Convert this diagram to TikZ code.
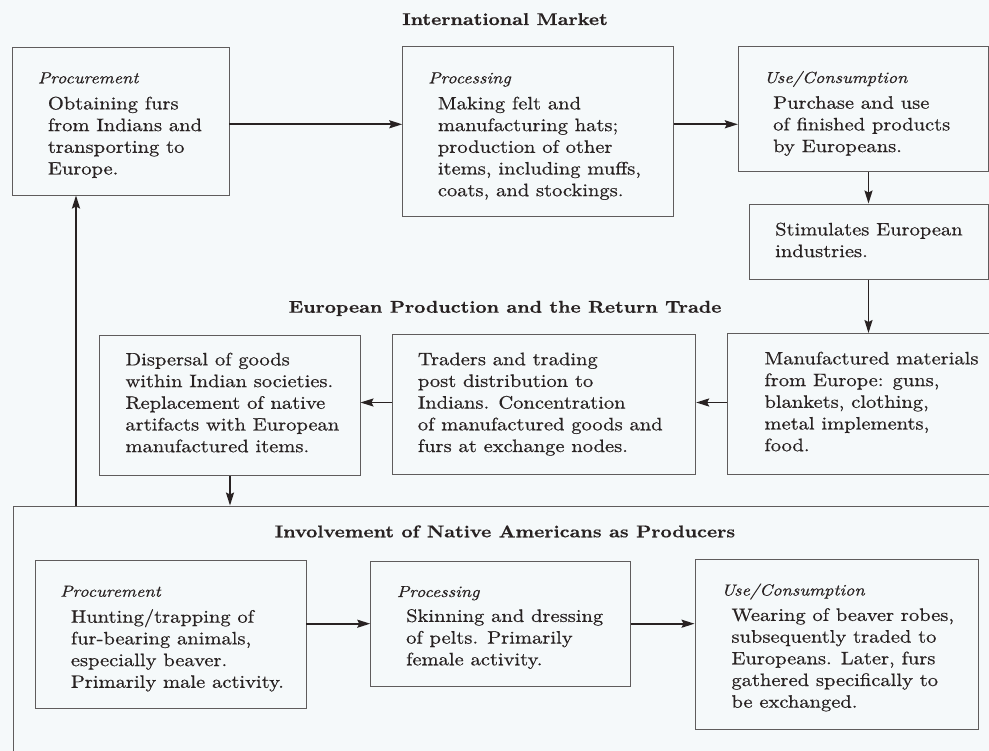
\documentclass[tikz,border=0pt]{standalone}
\usepackage{fontspec}
\setmainfont{lmroman10}[Extension=.otf, UprightFont=*-regular, BoldFont=*-bold, ItalicFont=*-italic, BoldItalicFont=*-bolditalic, FakeStretch=1.14, FakeBold=0.6]
\usetikzlibrary{arrows.meta,fit}
\definecolor{bg}{RGB}{245,249,250}
\definecolor{ink}{RGB}{40,34,34}
\definecolor{edge}{RGB}{95,92,92}
\begin{document}
\begin{tikzpicture}[x=1pt,y=-1pt,
  box/.style={draw=edge, line width=0.9pt, inner sep=0pt},
  body/.style={anchor=north west, inner sep=0pt, align=left, text=ink, font=\fontsize{18}{21.7}\selectfont},
  hd/.style={anchor=base west, inner sep=0pt, text=ink, font=\fontsize{16}{19}\selectfont\itshape},
  ttl/.style={anchor=base, inner sep=0pt, text=ink, font=\fontsize{17}{20}\selectfont\bfseries},
  arr/.style={draw=ink, line width=1.8pt, -{Stealth[length=13pt,width=8pt,inset=2pt]}},
]
\useasboundingbox (0,0) rectangle (989,751);
\clip (0,0) rectangle (989,751);
\fill[bg] (0,0) rectangle (989,751);

% titles
\node[ttl] (t1) at (505,25) {International Market};
\node[ttl] (t2) at (505,312.7) {European Production and the Return Trade};
\node[ttl] (t3) at (505,537.3) {Involvement of Native Americans as Producers};

% boxes
\node[box, fit={(12.3,47.7) (229,195)}] (b1) {};
\node[box, fit={(402.7,46.7) (673.3,216)}] (b2) {};
\node[box, fit={(738.3,46.7) (988,171.7)}] (b3) {};
\node[box, fit={(749.7,204) (988,279.3)}] (b4) {};
\node[box, fit={(727.7,333.5) (1000,474)}] (b5) {};
\node[box, fit={(392.7,334.3) (695.7,474.3)}] (b6) {};
\node[box, fit={(99.3,335) (360,475.7)}] (b7) {};
\node[box, fit={(13,506) (1010,800)}] (big) {};
\node[box, fit={(35,560.7) (306,708.7)}] (b8) {};
\node[box, fit={(370.7,561) (630.7,686)}] (b9) {};
\node[box, fit={(695,559.3) (978,729.3)}] (b10) {};

% texts
\node[hd] (h1) at (37.7,83.3) {Procurement};
\node[body] (x1) at (47.7,96.5) {Obtaining furs\\from Indians and\\transporting to\\Europe.};
\node[hd] (h2) at (428,83.3) {Processing};
\node[body] (x2) at (437.7,96.5) {Making felt and\\manufacturing hats;\\production of other\\items, including muffs,\\coats, and stockings.};
\node[hd] (h3) at (764,83) {Use/Consumption};
\node[body] (x3) at (773,96) {Purchase and use\\of finished products\\by Europeans.};
\node[body] (x4) at (775,222.5) {Stimulates European\\industries.};
\node[body] (x5) at (764.3,351.5) {Manufactured materials\\from Europe: guns,\\blankets, clothing,\\metal implements,\\food.};
\node[body] (x6) at (417.7,352.5) {Traders and trading\\post distribution to\\Indians. Concentration\\of manufactured goods and\\furs at exchange nodes.};
\node[body] (x7) at (125.3,352.5) {Dispersal of goods\\within Indian societies.\\Replacement of native\\artifacts with European\\manufactured items.};
\node[hd] (h8) at (60,596.7) {Procurement};
\node[body] (x8) at (70.7,609) {Hunting/trapping of\\fur-bearing animals,\\especially beaver.\\Primarily male activity.};
\node[hd] (h9) at (396.7,597) {Processing};
\node[body] (x9) at (406,609) {Skinning and dressing\\of pelts. Primarily\\female activity.};
\node[hd] (h10) at (721.3,595.5) {Use/Consumption};
\node[body] (x10) at (731.3,608) {Wearing of beaver robes,\\subsequently traded to\\Europeans. Later, furs\\gathered specifically to\\be exchanged.};

% connectors
\coordinate (ya) at (0,124.3);
\coordinate (yb) at (0,402.5);
\coordinate (yc) at (0,623.7);
\coordinate (xa) at (868.5,0);
\coordinate (xb) at (230,0);
\coordinate (xc) at (76,0);
\draw[arr] (b1.east |- ya) -- (b2.west |- ya);
\draw[arr] (b2.east |- ya) -- (b3.west |- ya);
\draw[arr] (b3.south -| xa) -- (b4.north -| xa);
\draw[arr] (b4.south -| xa) -- (b5.north -| xa);
\draw[arr] (b5.west |- yb) -- (b6.east |- yb);
\draw[arr] (b6.west |- yb) -- (b7.east |- yb);
\draw[arr] (b7.south -| xb) -- (big.north -| xb);
\draw[arr, line width=2.2pt] (big.north -| xc) -- (b1.south -| xc);
\draw[arr] (b8.east |- yc) -- (b9.west |- yc);
\draw[arr] (b9.east |- yc) -- (b10.west |- yc);
\end{tikzpicture}
\end{document}
